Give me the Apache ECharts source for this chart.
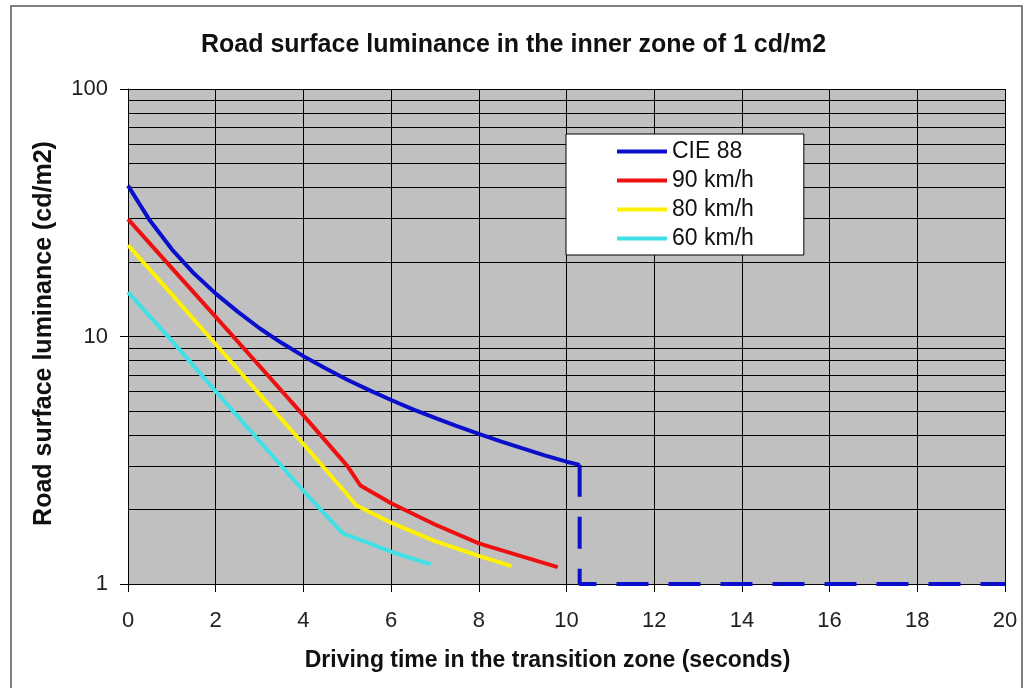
<!DOCTYPE html>
<html>
<head>
<meta charset="utf-8">
<script src="https://cdn.jsdelivr.net/npm/echarts@6/dist/echarts.min.js"></script>
<style>
html, body { margin: 0; padding: 0; background: #fff; }
#main { width: 1027px; height: 688px; }
</style>
</head>
<body>
<div id="main"></div>
<script>
// CIE 88 recommendation
var cieTime = [0, 0.5, 1, 1.5, 2, 2.5, 3, 3.5, 4, 4.5, 5, 5.5, 6, 6.5, 7, 7.5, 8, 8.5, 9, 9.5, 10, 10.3];
var cieLum = [40.7, 29.4, 22.5, 18.0, 14.9, 12.6, 10.8, 9.43, 8.33, 7.44, 6.69, 6.07, 5.54, 5.08, 4.69, 4.34, 4.04, 3.77, 3.53, 3.31, 3.12, 3.03];
// end of the transition: drop to the inner zone level
var cieEndTime = [10.3, 10.3, 20];
var cieEndLum = [3.03, 1, 1];
// 90 km/h
var t90 = [0, 1, 2, 3, 4, 5, 5.3, 6, 7, 8, 9, 9.8];
var l90 = [29.8, 18.9, 12.0, 7.6, 4.8, 3.0, 2.5, 2.12, 1.74, 1.46, 1.29, 1.17];
// 80 km/h
var t80 = [0, 1, 2, 3, 4, 5, 5.2, 6, 7, 8, 8.75];
var l80 = [23.4, 14.8, 9.3, 5.85, 3.68, 2.3, 2.08, 1.77, 1.49, 1.3, 1.18];
// 60 km/h
var t60 = [0, 1, 2, 3, 4, 4.9, 6, 6.9];
var l60 = [15.1, 9.6, 6.0, 3.78, 2.38, 1.6, 1.35, 1.2];

var seriesNames = ['CIE 88', '90 km/h', '80 km/h', '60 km/h'];
// minor log grid lines
var minorGrid = [2, 3, 4, 5, 6, 7, 8, 9, 20, 30, 40, 50, 60, 70, 80, 90];

function pairs(xs, ys) {
	var out = [];
	for (var i = 0; i < xs.length; i++) {
		out.push([xs[i], ys[i]]);
	}
	return out;
}

var font = 'Arial, "Liberation Sans", sans-serif';
var myChart = echarts.init(document.getElementById('main'));

var option = {
	animation: false,
	backgroundColor: '#fff',
	graphic: [{
		type: 'rect',
		shape: { x: 11, y: 6, width: 1011, height: 700 },
		style: { fill: 'none', stroke: '#555', lineWidth: 1.5 },
		silent: true
	}],
	title: {
		text: 'Road surface luminance in the inner zone of 1 cd/m2',
		left: 'center',
		top: 28,
		textStyle: { fontFamily: font, fontSize: 25, fontWeight: 'bold', color: '#111' }
	},
	legend: {
		data: seriesNames,
		orient: 'vertical',
		left: 566,
		top: 134,
		icon: 'rect',
		itemWidth: 50,
		itemHeight: 4,
		itemGap: 6,
		padding: [6, 50, 5, 51],
		backgroundColor: '#fff',
		borderColor: '#000',
		borderWidth: 1,
		textStyle: { fontFamily: font, fontSize: 23, color: '#111', lineHeight: 23 }
	},
	grid: {
		left: 128,
		right: 22,
		top: 89,
		bottom: 104,
		show: true,
		backgroundColor: '#c0c0c0',
		borderWidth: 0
	},
	xAxis: {
		type: 'value',
		min: 0,
		max: 20,
		interval: 2,
		name: 'Driving time in the transition zone (seconds)',
		nameLocation: 'middle',
		nameGap: 65,
		nameTextStyle: { fontFamily: font, fontSize: 23, fontWeight: 'bold', color: '#111', padding: [0, 38, 0, 0] },
		axisLine: { lineStyle: { color: '#000', width: 1 } },
		axisTick: { show: true, length: 8, lineStyle: { color: '#000' } },
		axisLabel: { fontFamily: font, fontSize: 22, color: '#222', margin: 26 },
		splitLine: { show: true, lineStyle: { color: '#000', width: 1 } }
	},
	yAxis: {
		type: 'log',
		logBase: 10,
		min: 1,
		max: 100,
		name: 'Road surface luminance (cd/m2)',
		nameLocation: 'middle',
		nameGap: 71,
		nameTextStyle: { fontFamily: font, fontSize: 25, fontWeight: 'bold', color: '#111', padding: [0, 0, 0, 6] },
		axisLine: { show: true, lineStyle: { color: '#000', width: 1 } },
		axisTick: { show: true, length: 8, lineStyle: { color: '#000' } },
		axisLabel: { fontFamily: font, fontSize: 22, color: '#222', margin: 20 },
		splitLine: { show: true, lineStyle: { color: '#000', width: 1 } }
	},
	series: [{
		name: 'CIE 88',
		type: 'line',
		symbol: 'none',
		color: '#0a0fcc',
		lineStyle: { width: 4, color: '#0a0fcc' },
		data: pairs(cieTime, cieLum),
		z: 3
	}, {
		name: '90 km/h',
		type: 'line',
		symbol: 'none',
		color: '#ee1010',
		lineStyle: { width: 4, color: '#ee1010' },
		data: pairs(t90, l90),
		z: 3
	}, {
		name: '80 km/h',
		type: 'line',
		symbol: 'none',
		color: '#fff200',
		lineStyle: { width: 4, color: '#fff200' },
		data: pairs(t80, l80),
		z: 3
	}, {
		name: '60 km/h',
		type: 'line',
		symbol: 'none',
		color: '#40e0e6',
		lineStyle: { width: 4, color: '#40e0e6' },
		data: pairs(t60, l60),
		z: 3
	}, {
		name: 'CIE 88 end',
		type: 'line',
		symbol: 'none',
		color: '#0a0fcc',
		lineStyle: { width: 4, color: '#0a0fcc', type: [32, 20] },
		data: pairs(cieEndTime, cieEndLum),
		z: 3,
		markLine: {
			silent: true,
			z: 1,
			symbol: ['none', 'none'],
			label: { show: false },
			lineStyle: { color: '#000', width: 1, type: 'solid' },
			emphasis: { disabled: true },
			data: minorGrid.map(function(v) { return { yAxis: v }; })
		}
	}]
};

myChart.setOption(option);
</script>
</body>
</html>
